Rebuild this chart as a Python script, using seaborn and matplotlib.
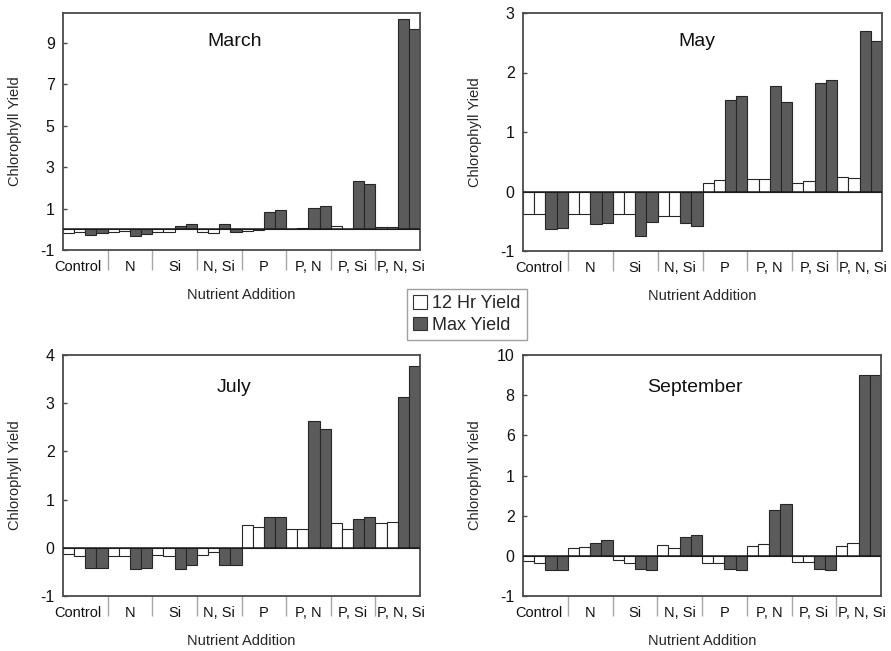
import numpy as np
import pandas as pd
import matplotlib
matplotlib.use("Agg")
import matplotlib.pyplot as plt
import matplotlib.transforms as mtransforms
from matplotlib.patches import Patch
import seaborn as sns

# ---------------- data ----------------
treatments = ["Control", "N", "Si", "N, Si", "P", "P, N", "P, Si", "P, N, Si"]
series_names = ["12 Hr Yield A", "12 Hr Yield B", "Max Yield A", "Max Yield B"]

march_12h_a = [-0.18, -0.14, -0.15, -0.12, -0.06, 0.00, 0.14, 0.12]
march_12h_b = [-0.12, -0.09, -0.15, -0.17, -0.05, 0.07, 0.01, 0.12]
march_max_a = [-0.29, -0.31, 0.15, 0.26, 0.82, 1.03, 2.31, 10.15]
march_max_b = [-0.18, -0.23, 0.26, -0.15, 0.95, 1.11, 2.19, 9.68]

may_12h_a = [-0.38, -0.38, -0.38, -0.41, 0.14, 0.21, 0.14, 0.24]
may_12h_b = [-0.38, -0.38, -0.38, -0.41, 0.20, 0.21, 0.18, 0.23]
may_max_a = [-0.63, -0.55, -0.75, -0.53, 1.54, 1.78, 1.82, 2.69]
may_max_b = [-0.61, -0.53, -0.52, -0.58, 1.61, 1.51, 1.87, 2.53]

july_12h_a = [-0.13, -0.17, -0.15, -0.15, 0.48, 0.40, 0.51, 0.51]
july_12h_b = [-0.17, -0.17, -0.17, -0.08, 0.43, 0.38, 0.39, 0.53]
july_max_a = [-0.41, -0.43, -0.43, -0.36, 0.63, 2.63, 0.60, 3.12]
july_max_b = [-0.41, -0.41, -0.36, -0.36, 0.63, 2.47, 0.63, 3.77]

sept_12h_a = [-0.27, 0.40, -0.22, 0.53, -0.35, 0.48, -0.33, 0.48]
sept_12h_b = [-0.35, 0.45, -0.38, 0.37, -0.35, 0.58, -0.33, 0.62]
sept_max_a = [-0.72, 0.65, -0.68, 0.95, -0.68, 2.28, -0.68, 8.98]
sept_max_b = [-0.72, 0.78, -0.72, 1.03, -0.73, 2.57, -0.73, 8.98]

march_yticks = [-1, 1, 3, 5, 7, 9]
march_yticklabels = ["-1", "1", "3", "5", "7", "9"]
may_yticks = [-1, 0, 1, 2, 3]
may_yticklabels = ["-1", "0", "1", "2", "3"]
july_yticks = [-1, 0, 1, 2, 3, 4]
july_yticklabels = ["-1", "0", "1", "2", "3", "4"]
sept_yticks = [-2, 0, 2, 4, 6, 8, 10]
sept_yticklabels = ["-1", "0", "2", "1", "6", "8", "10"]

panels = [
    ("March", [march_12h_a, march_12h_b, march_max_a, march_max_b], march_yticks, march_yticklabels, (-1, 10.45),
     [63, 12.7, 420, 250]),
    ("May", [may_12h_a, may_12h_b, may_max_a, may_max_b], may_yticks, may_yticklabels, (-1, 3),
     [523, 13, 882, 251]),
    ("July", [july_12h_a, july_12h_b, july_max_a, july_max_b], july_yticks, july_yticklabels, (-1, 4),
     [63, 355, 420, 596]),
    ("September", [sept_12h_a, sept_12h_b, sept_max_a, sept_max_b], sept_yticks, sept_yticklabels, (-2, 10),
     [523, 355, 881, 596]),
]

# ---------------- style ----------------
sns.set_style("white")
plt.rcParams["font.family"] = ["Liberation Sans", "DejaVu Sans"]

W, H = 891, 651
fig = plt.figure(figsize=(W / 100, H / 100), dpi=100)

white_c = "#ffffff"
gray_c = "#5b5b5b"
edge_c = "#262626"
spine_c = "#4a4a4a"

for title, vals, yt, ytl, ylim, box in panels:
    l, t, r, b = box
    ax = fig.add_axes([l / W, 1 - b / H, (r - l) / W, (b - t) / H])
    rows = []
    for s, arr in zip(series_names, vals):
        for tr, v in zip(treatments, arr):
            rows.append({"treatment": tr, "series": s, "value": v})
    df = pd.DataFrame(rows)
    sns.barplot(data=df, x="treatment", y="value", hue="series",
                order=treatments, hue_order=series_names,
                palette=[white_c, white_c, gray_c, gray_c],
                width=1.0, gap=0, saturation=1,
                edgecolor=edge_c, linewidth=0.8,
                legend=False, ax=ax, errorbar=None)
    ax.axhline(0, color="#1a1a1a", lw=1.1, zorder=5)
    ax.set_xlim(-0.5, len(treatments) - 0.5)
    ax.set_ylim(*ylim)
    ax.set_yticks(yt)
    ax.set_yticklabels(ytl, fontsize=11.5)
    ax.set_xticks(range(len(treatments)))
    ax.set_xticklabels(treatments, fontsize=10.5)
    ax.set_xticks(np.arange(0.5, len(treatments) - 0.5, 1.0), minor=True)
    ax.tick_params(axis="x", which="both", bottom=True, top=False)
    ax.tick_params(axis="y", which="both", left=True, right=False)
    ax.tick_params(axis="x", which="major", length=0, pad=7, colors="#111111")
    ax.tick_params(axis="x", which="minor", length=14.5, width=1.0, direction="out", color="#a8a8a8")
    ax.tick_params(axis="y", which="major", length=3, width=1.0, direction="in", color=spine_c,
                   labelcolor="#111111", pad=6)
    # nudge the outer labels off the separators, as in the original
    labs = ax.get_xticklabels()
    labs[0].set_transform(labs[0].get_transform() +
                          mtransforms.ScaledTranslation(-7 / 100, 0, fig.dpi_scale_trans))
    labs[-1].set_transform(labs[-1].get_transform() +
                           mtransforms.ScaledTranslation(3 / 100, 0, fig.dpi_scale_trans))
    for sp in ax.spines.values():
        sp.set_visible(True)
        sp.set_color(spine_c)
        sp.set_linewidth(1.3)
    ax.set_xlabel("Nutrient Addition", fontsize=10.5, va="center")
    ax.xaxis.set_label_coords(0.5, -45 / (b - t))
    ax.set_ylabel("Chlorophyll Yield", fontsize=10.5, va="center")
    ax.yaxis.set_label_coords(-48 / (r - l), 0.5)
    ax.text(0.48 if title != "May" else 0.485, 0.88 if t < 100 else 0.865, title,
            transform=ax.transAxes, ha="center", va="center", fontsize=14, color="#111111")

handles = [Patch(facecolor=white_c, edgecolor="#333333", linewidth=0.8),
           Patch(facecolor=gray_c, edgecolor="#333333", linewidth=0.8)]
leg = fig.legend(handles, ["12 Hr Yield", "Max Yield"], loc="center",
                 bbox_to_anchor=(467 / W, 1 - 314.5 / H), fontsize=13,
                 frameon=True, fancybox=False, edgecolor="#888888",
                 handlelength=0.75, handleheight=0.75, handletextpad=0.3,
                 borderpad=0.35, labelspacing=0.25, borderaxespad=0)
leg.get_frame().set_linewidth(1.0)

fig.savefig("out.png", dpi=100)
